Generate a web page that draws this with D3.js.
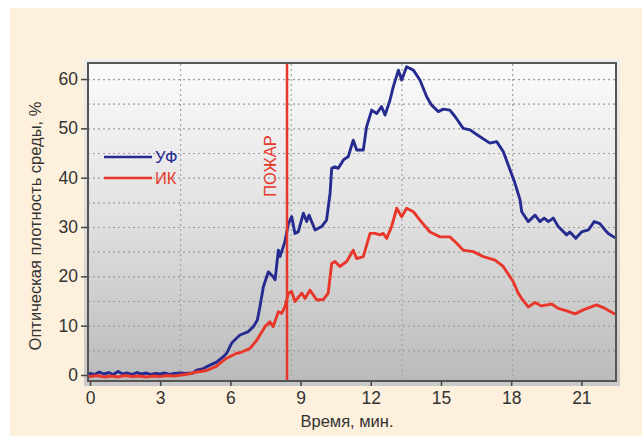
<!DOCTYPE html>
<html>
<head>
<meta charset="utf-8">
<script src="https://cdn.jsdelivr.net/npm/d3@7"></script>
<style>
  body { margin: 0; background: #ffffff; }
  svg { display: block; font-family: "Liberation Sans", Arial, sans-serif; }
</style>
</head>
<body>
<svg id="chart" width="642" height="436"></svg>
<script>
// УФ series: [time, min ; optical density, %]
const uf = [
  [0, 0.3], [0.2, 0.1], [0.4, 0.6], [0.6, 0.2], [0.8, 0.5], [1.0, 0.1], [1.2, 0.7], [1.4, 0.2],
  [1.6, 0.4], [1.8, 0.1], [2.0, 0.5], [2.2, 0.2], [2.4, 0.4], [2.6, 0.1], [2.8, 0.3], [3.0, 0.2],
  [3.2, 0.4], [3.4, 0.1], [3.6, 0.3], [3.85, 0.4], [4.1, 0.3], [4.4, 0.4], [4.56, 1.0], [4.84, 1.3],
  [5.13, 2.0], [5.41, 2.6], [5.7, 3.7], [5.84, 4.4], [6.05, 6.4], [6.12, 6.8], [6.41, 8.1], [6.77, 8.8],
  [6.98, 9.8], [7.15, 11.1], [7.26, 13.8], [7.41, 17.9], [7.62, 20.9], [7.83, 19.9], [7.91, 19.3],
  [8.05, 25.3], [8.12, 24.0], [8.33, 27.0], [8.48, 30.7], [8.62, 32.1], [8.76, 28.7], [8.9, 29.0],
  [9.12, 32.8], [9.26, 31.1], [9.36, 32.4], [9.62, 29.4], [9.9, 30.1], [10.11, 31.4], [10.26, 36.8],
  [10.33, 41.9], [10.47, 42.2], [10.61, 41.9], [10.83, 43.6], [11.04, 44.3], [11.25, 47.6], [11.4, 45.6],
  [11.68, 45.6], [11.82, 50.3], [12.04, 53.7], [12.25, 53.0], [12.46, 54.4], [12.61, 52.7], [12.82, 55.7],
  [12.96, 58.4], [13.18, 61.8], [13.32, 59.8], [13.53, 62.5], [13.82, 61.8], [14.1, 59.8], [14.39, 56.4],
  [14.6, 54.7], [14.89, 53.4], [15.1, 53.9], [15.38, 53.7], [15.6, 52.4], [15.95, 50.0], [16.24, 49.7],
  [16.67, 48.3], [17.09, 47.0], [17.38, 47.3], [17.66, 45.3], [17.95, 41.6], [18.16, 38.9], [18.38, 35.5],
  [18.45, 33.1], [18.73, 31.1], [19.02, 32.4], [19.23, 31.1], [19.41, 31.8], [19.59, 31.1], [19.8, 31.8],
  [20.01, 30.1], [20.37, 28.4], [20.51, 29.0], [20.76, 27.7], [21.01, 29.0], [21.3, 29.4], [21.55, 31.1],
  [21.79, 30.7], [22.01, 29.4], [22.15, 28.7], [22.41, 27.9]
];

// ИК series
const ik = [
  [0, -0.3], [0.3, -0.1], [0.6, -0.4], [0.9, -0.2], [1.2, -0.4], [1.5, -0.1], [1.8, -0.3], [2.1, -0.2],
  [2.4, -0.4], [2.7, -0.2], [3.0, -0.3], [3.3, -0.1], [3.6, -0.2], [3.9, 0.0], [4.2, 0.2], [4.56, 0.6],
  [4.99, 0.9], [5.41, 1.8], [5.56, 2.4], [5.84, 3.4], [6.27, 4.4], [6.41, 4.5], [6.7, 5.1], [6.84, 5.4],
  [7.12, 7.0], [7.48, 9.8], [7.69, 10.8], [7.83, 9.8], [8.05, 12.8], [8.19, 12.5], [8.33, 13.8],
  [8.48, 16.6], [8.62, 16.9], [8.76, 14.9], [9.05, 16.6], [9.19, 15.5], [9.4, 17.2], [9.69, 15.2],
  [9.97, 15.3], [10.18, 16.6], [10.33, 22.6], [10.47, 23.0], [10.68, 22.0], [10.97, 23.0], [11.25, 25.3],
  [11.4, 23.6], [11.68, 24.0], [11.97, 28.7], [12.18, 28.7], [12.39, 28.4], [12.53, 28.7], [12.68, 27.7],
  [12.89, 30.1], [13.11, 33.8], [13.32, 32.1], [13.53, 33.8], [13.82, 33.1], [14.1, 31.4], [14.53, 29.0],
  [14.96, 28.0], [15.38, 28.0], [15.67, 26.7], [15.95, 25.3], [16.38, 25.0], [16.81, 24.0], [17.31, 23.3],
  [17.66, 22.0], [17.95, 19.9], [18.09, 18.9], [18.3, 16.6], [18.45, 15.5], [18.73, 13.8], [19.02, 14.7],
  [19.3, 14.0], [19.73, 14.4], [20.01, 13.5], [20.37, 13.0], [20.73, 12.4], [21.08, 13.2], [21.65, 14.2],
  [22.01, 13.5], [22.41, 12.4]
];

const xTicks = [0, 3, 6, 9, 12, 15, 18, 21];
const yTicks = [0, 10, 20, 30, 40, 50, 60];
const yGrid = [5, 10, 15, 20, 25, 30, 35, 40, 45, 50, 55, 60];
const xGrid = [3.85, 8.58, 13.31, 18.04];
const fireTime = 8.42;

const seriesNames = ["УФ", "ИК"];
const colors = ["#262b8f", "#e8372a"];

// plot frame in pixels
const frame = { left: 88, right: 616, top: 63, bottom: 381 };

const svg = d3.select("#chart");
const defs = svg.append("defs");

// cream page background
svg.append("rect")
  .attr("x", 10).attr("y", 8)
  .attr("width", 632).attr("height", 428)
  .attr("fill", "#fdf0dc");

// gradients
const bg = defs.append("linearGradient").attr("id", "plot-bg")
  .attr("x1", 0).attr("y1", 0).attr("x2", 0).attr("y2", 1);
bg.append("stop").attr("offset", "0%").attr("stop-color", "#fbfbfb");
bg.append("stop").attr("offset", "50%").attr("stop-color", "#e0e0e0");
bg.append("stop").attr("offset", "100%").attr("stop-color", "#bababa");

const halo = defs.append("linearGradient").attr("id", "halo-bg")
  .attr("x1", 0).attr("y1", 0).attr("x2", 0).attr("y2", 1);
halo.append("stop").attr("offset", "0%").attr("stop-color", "#eeeeee");
halo.append("stop").attr("offset", "100%").attr("stop-color", "#c9c9c9");

defs.append("clipPath").attr("id", "plot-clip")
  .append("rect")
  .attr("x", frame.left).attr("y", frame.top)
  .attr("width", frame.right - frame.left).attr("height", frame.bottom - frame.top);

// scales
const xScale = d3.scaleLinear().domain([-0.085, 22.48]).range([frame.left, frame.right]);
const yScale = d3.scaleLinear().domain([-1.22, 63.25]).range([frame.bottom, frame.top]);

// halo around plot
svg.append("rect")
  .attr("x", frame.left - 4).attr("y", frame.top - 4)
  .attr("width", frame.right - frame.left + 8).attr("height", frame.bottom - frame.top + 9)
  .attr("fill", "url(#halo-bg)");

svg.append("rect")
  .attr("x", frame.left).attr("y", frame.top)
  .attr("width", frame.right - frame.left).attr("height", frame.bottom - frame.top)
  .attr("fill", "url(#plot-bg)");

// horizontal gridlines
svg.append("g")
  .attr("transform", `translate(${frame.left},0)`)
  .call(d3.axisLeft(yScale).tickValues(yGrid).tickSize(-(frame.right - frame.left)).tickFormat(""))
  .call(g => g.select(".domain").remove())
  .call(g => g.selectAll(".tick line")
    .attr("stroke", "#9c9c9c")
    .attr("stroke-width", 1.2)
    .attr("stroke-dasharray", "2,3"));

// vertical gridlines
svg.append("g")
  .attr("transform", `translate(0,${frame.bottom})`)
  .call(d3.axisBottom(xScale).tickValues(xGrid).tickSize(-(frame.bottom - frame.top)).tickFormat(""))
  .call(g => g.select(".domain").remove())
  .call(g => g.selectAll(".tick line")
    .attr("stroke", "#a4a4a4")
    .attr("stroke-width", 1.2)
    .attr("stroke-dasharray", "2,3"));

// data lines
const line = d3.line()
  .x(d => xScale(d[0]))
  .y(d => yScale(d[1]));

const plot = svg.append("g").attr("clip-path", "url(#plot-clip)");

[uf, ik].forEach((series, i) => {
  plot.append("path")
    .datum(series)
    .attr("d", line)
    .attr("fill", "none")
    .attr("stroke", colors[i])
    .attr("stroke-width", 2.9)
    .attr("stroke-linejoin", "round")
    .attr("stroke-linecap", "round");
});

// fire marker
svg.append("line")
  .attr("x1", xScale(fireTime)).attr("x2", xScale(fireTime))
  .attr("y1", frame.top).attr("y2", frame.bottom)
  .attr("stroke", "#e8372a")
  .attr("stroke-width", 2.5);

svg.append("text")
  .attr("transform", `translate(${xScale(fireTime) - 11},${166}) rotate(-90)`)
  .attr("text-anchor", "middle")
  .attr("font-size", 16.5)
  .attr("fill", "#e8372a")
  .text("ПОЖАР");

// frame
svg.append("rect")
  .attr("x", frame.left).attr("y", frame.top)
  .attr("width", frame.right - frame.left).attr("height", frame.bottom - frame.top)
  .attr("fill", "none")
  .attr("stroke", "#555555")
  .attr("stroke-width", 2);

// y axis
svg.append("g")
  .attr("transform", `translate(${frame.left - 1},0)`)
  .call(d3.axisLeft(yScale).tickValues(yTicks).tickSize(6).tickPadding(3))
  .call(g => g.select(".domain").remove())
  .call(g => g.selectAll(".tick line").attr("stroke", "#444").attr("stroke-width", 1.5))
  .call(g => g.selectAll(".tick text")
    .attr("fill", "#333333")
    .attr("font-size", 17.5)
    .attr("font-family", "Liberation Sans, Arial, sans-serif"));

// x axis
svg.append("g")
  .attr("transform", `translate(0,${frame.bottom})`)
  .call(d3.axisBottom(xScale).tickValues(xTicks).tickSize(5).tickPadding(6))
  .call(g => g.select(".domain").remove())
  .call(g => g.selectAll(".tick line").attr("stroke", "#444").attr("stroke-width", 1.5))
  .call(g => g.selectAll(".tick text")
    .attr("fill", "#333333")
    .attr("font-size", 17.5)
    .attr("font-family", "Liberation Sans, Arial, sans-serif"));

// axis titles
svg.append("text")
  .attr("x", 347).attr("y", 427)
  .attr("text-anchor", "middle")
  .attr("font-size", 16.5)
  .attr("fill", "#333333")
  .text("Время, мин.");

svg.append("text")
  .attr("transform", "translate(41,226) rotate(-90)")
  .attr("text-anchor", "middle")
  .attr("font-size", 16.5)
  .attr("fill", "#333333")
  .text("Оптическая плотность среды, %");

// legend
const legendY = [157, 178];
seriesNames.forEach((name, i) => {
  svg.append("line")
    .attr("x1", 104).attr("x2", 152)
    .attr("y1", legendY[i]).attr("y2", legendY[i])
    .attr("stroke", colors[i])
    .attr("stroke-width", 2.6);
  svg.append("text")
    .attr("x", 155).attr("y", legendY[i])
    .attr("dy", "0.36em")
    .attr("font-size", 16.5)
    .attr("fill", colors[i])
    .text(name);
});
</script>
</body>
</html>
